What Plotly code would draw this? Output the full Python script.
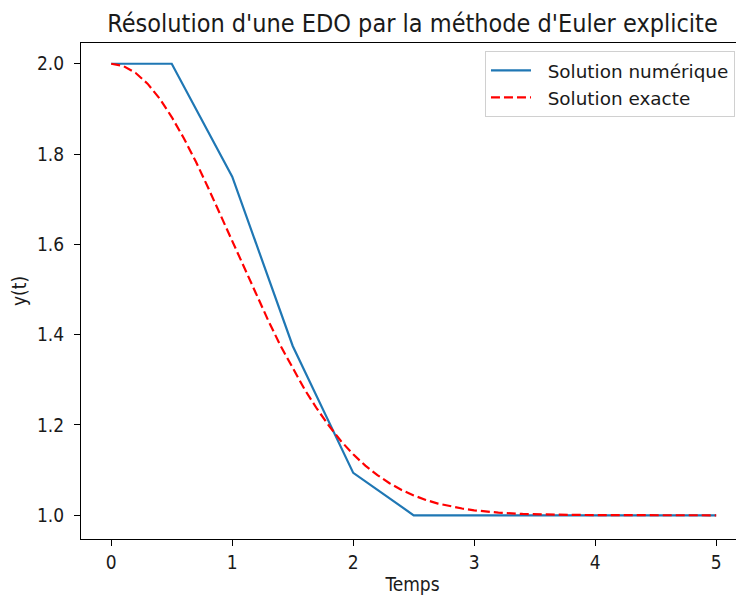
import plotly.graph_objects as go

t_num = [0.0, 0.5, 1.0, 1.5, 2.0, 2.5, 3.0, 3.5, 4.0, 4.5, 5.0]
y_num = [2.0, 2.0, 1.75, 1.375, 1.094, 1.0, 1.0, 1.0, 1.0, 1.0, 1.0]

t_ex = [0.0, 0.1, 0.2, 0.3, 0.4, 0.5, 0.6, 0.7, 0.8, 0.9, 1.0, 1.1, 1.2, 1.3, 1.4,
        1.5, 1.6, 1.7, 1.8, 1.9, 2.0, 2.1, 2.2, 2.3, 2.4, 2.5, 2.6, 2.7, 2.8, 2.9,
        3.0, 3.2, 3.4, 3.6, 3.8, 4.0, 4.5, 5.0]
y_ex = [2.0, 1.995, 1.980, 1.956, 1.923, 1.882, 1.835, 1.783, 1.726, 1.667, 1.607,
        1.546, 1.487, 1.430, 1.375, 1.325, 1.278, 1.236, 1.198, 1.164, 1.135, 1.110,
        1.089, 1.071, 1.056, 1.044, 1.034, 1.026, 1.020, 1.015, 1.011, 1.006, 1.003,
        1.0015, 1.001, 1.0003, 1.0, 1.0]

x_ticks = [0, 1, 2, 3, 4, 5]
y_ticks = [1.0, 1.2, 1.4, 1.6, 1.8, 2.0]
y_tick_labels = ["1.0", "1.2", "1.4", "1.6", "1.8", "2.0"]
series_names = ["Solution numérique", "Solution exacte"]

pad = "\u00a0\u00a0"
fig = go.Figure()
fig.add_trace(go.Scatter(x=t_num, y=y_num, mode="lines", name=pad + series_names[0],
                         line=dict(color="#1f77b4", width=2.2)))
fig.add_trace(go.Scatter(x=t_ex, y=y_ex, mode="lines", name=pad + series_names[1],
                         line=dict(color="#ff0000", width=2.2, dash="9px,4px")))

font = "DejaVu Sans Condensed, DejaVu Sans"
txt = "#1a1a1a"
fig.update_layout(
    width=736, height=590,
    margin=dict(l=73, r=0, t=35, b=59, autoexpand=False),
    paper_bgcolor="white", plot_bgcolor="white",
    title=dict(text="Résolution d'une EDO par la méthode d'Euler explicite",
               x=404.5 / 736, xanchor="center", y=1 - 15 / 590, yanchor="middle",
               font=dict(family=font, size=25, color=txt)),
    font=dict(family=font, color=txt),
    showlegend=True,
    legend=dict(x=0.9864, y=0.984, xanchor="right", yanchor="top",
                bordercolor="#d0d0d0", borderwidth=1, bgcolor="rgba(255,255,255,0.8)",
                itemwidth=40,
                font=dict(family="DejaVu Sans", size=18.4, color=txt), tracegroupgap=0),
)
fig.update_xaxes(range=[-0.25, 5.23], tickvals=x_ticks, showgrid=False, zeroline=False,
                 showline=True, linecolor="black", linewidth=1.2, mirror=True,
                 ticks="outside", ticklen=6, tickcolor="black", automargin=False,
                 tickfont=dict(family=font, size=19, color=txt),
                 title=dict(text="Temps", font=dict(family=font, size=19, color=txt), standoff=5))
fig.update_yaxes(range=[0.9475, 2.046], tickvals=y_ticks, ticktext=y_tick_labels,
                 showgrid=False, zeroline=False,
                 showline=True, linecolor="black", linewidth=1.2, mirror=False,
                 ticks="outside", ticklen=6, tickcolor="black", automargin=False,
                 ticklabelstandoff=6,
                 tickfont=dict(family=font, size=19, color=txt),
                 title=dict(text="y(t)", font=dict(family=font, size=19, color=txt), standoff=19))
fig.write_html("out.html")
